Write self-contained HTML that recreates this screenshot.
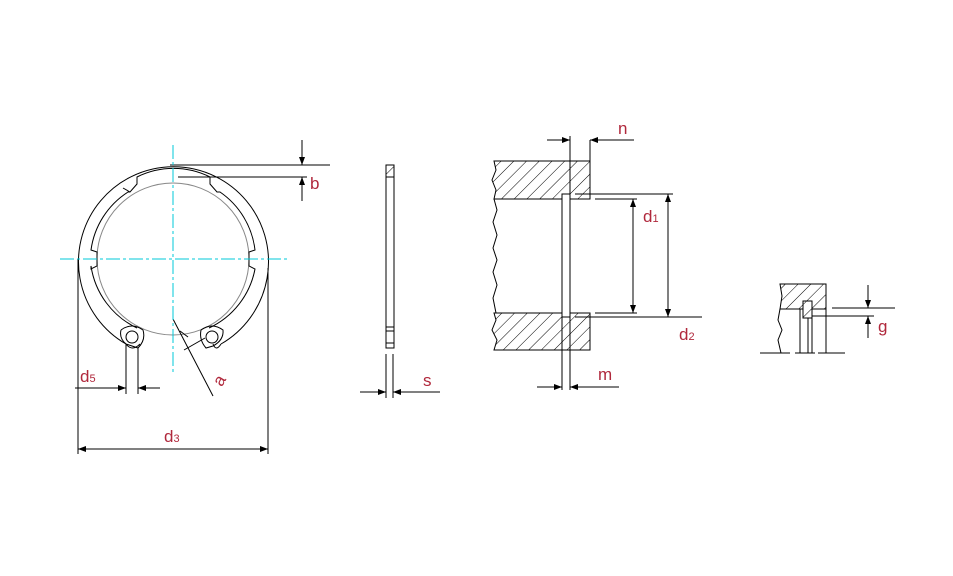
<!DOCTYPE html>
<html><head><meta charset="utf-8"><style>
html,body{margin:0;padding:0;background:#fff;width:953px;height:576px;overflow:hidden}
text{font-family:"Liberation Sans",sans-serif;fill:#b0283c;font-size:17px}
</style></head><body>
<svg width="953" height="576" viewBox="0 0 953 576" xmlns="http://www.w3.org/2000/svg">
<defs>
<pattern id="h" patternUnits="userSpaceOnUse" width="9" height="9" patternTransform="rotate(45)">
<line x1="0" y1="0" x2="0" y2="9" stroke="#000" stroke-width="1"/>
</pattern>
<marker id="ar" markerWidth="8" markerHeight="6" refX="8" refY="3" orient="auto" markerUnits="userSpaceOnUse"><path d="M0,0 L8,3 L0,6z" fill="#000"/></marker>
</defs>
<g fill="none" stroke="#000" stroke-width="1">
<!-- Ring -->
<path d="M126,344 A95,95 0 1 1 221,344"/>
<path d="M126,344 Q132,352 140,344 M213,344 Q216,352 221,344"/>
<circle cx="173" cy="259" r="76" stroke="#888"/>
<path d="M137,328 A82,82 0 0 1 91,266 L91,269 L97,266 L97,252 L91,250 A82,82 0 0 1 128,192 L130,192 L137,184 L137,177 A82,82 0 0 1 210,177 L210,184 L217,192 L220,192 A82,82 0 0 1 255,250 L249,252 L249,266 L255,269 A82,82 0 0 1 209,328"/>
<path d="M97,255 L97,266 M123,188 L130,192"/>
<circle cx="132" cy="337" r="6"/><circle cx="212" cy="337" r="6"/>
<path d="M121,330 Q132,322 143,330 Q146,340 138,348 L126,344 Q119,338 121,330"/>
<path d="M201,330 Q212,322 223,330 Q224,340 213,346 L206,348 Q199,340 201,330"/>
<line x1="126" y1="344" x2="126" y2="394"/><line x1="138" y1="348" x2="138" y2="394"/>
<line x1="75" y1="388" x2="126" y2="388" marker-end="url(#ar)"/><line x1="160" y1="388" x2="138" y2="388" marker-end="url(#ar)"/>
<line x1="78" y1="259" x2="78" y2="454"/><line x1="268" y1="268" x2="268" y2="454"/>
<line x1="173" y1="449" x2="78" y2="449" marker-end="url(#ar)"/><line x1="173" y1="449" x2="268" y2="449" marker-end="url(#ar)"/>
<line x1="173" y1="319" x2="213" y2="396"/>
<line x1="188" y1="337" x2="180" y2="331" /><line x1="184" y1="350" x2="205" y2="338"/>
<line x1="170" y1="165" x2="330" y2="165"/><line x1="178" y1="177" x2="307" y2="177"/>
<line x1="302" y1="140" x2="302" y2="165" marker-end="url(#ar)"/><line x1="302" y1="201" x2="302" y2="177" marker-end="url(#ar)"/>
</g>
<g stroke="#00c8d8" stroke-width="1" stroke-dasharray="14,3,3,3">
<line x1="60" y1="259" x2="288" y2="259"/><line x1="173" y1="145" x2="173" y2="372"/>
</g>
<!-- side strip -->
<g fill="none" stroke="#000">
<rect x="386" y="165" width="8" height="12" fill="url(#h)"/>
<rect x="386" y="165" width="8" height="183"/>
<line x1="386" y1="327" x2="394" y2="327"/><line x1="386" y1="331" x2="394" y2="331"/><line x1="386" y1="343" x2="394" y2="343"/>
<line x1="386" y1="354" x2="386" y2="398"/><line x1="393" y1="354" x2="393" y2="398"/>
<line x1="360" y1="392" x2="386" y2="392" marker-end="url(#ar)"/><line x1="440" y1="392" x2="393" y2="392" marker-end="url(#ar)"/>
</g>
<!-- section -->
<g stroke="#000" fill="none">
<path d="M494,161 L590,161 L590,199 L494,199 L496,190 L492,180 L496,170z" fill="url(#h)"/>
<path d="M494,313 L590,313 L590,350 L494,350 L497,340 L492,330 L496,320z" fill="url(#h)"/>
<rect x="562" y="194" width="8" height="123" fill="#fff"/>
<path d="M494,199 L497,210 L493,222 L497,235 L493,248 L497,260 L493,272 L497,285 L493,298 L496,313" />
<line x1="570" y1="136" x2="570" y2="390"/><line x1="562" y1="317" x2="562" y2="390"/>
<line x1="590" y1="140" x2="590" y2="161"/>
<line x1="547" y1="140" x2="570" y2="140" marker-end="url(#ar)"/><line x1="634" y1="140" x2="590" y2="140" marker-end="url(#ar)"/>
<line x1="595" y1="199" x2="637" y2="199"/><line x1="595" y1="313" x2="637" y2="313"/>
<line x1="575" y1="194" x2="673" y2="194"/><line x1="575" y1="317" x2="702" y2="317"/>
<line x1="633" y1="256" x2="633" y2="199" marker-end="url(#ar)"/><line x1="633" y1="256" x2="633" y2="313" marker-end="url(#ar)"/>
<line x1="668" y1="256" x2="668" y2="194" marker-end="url(#ar)"/><line x1="668" y1="256" x2="668" y2="317" marker-end="url(#ar)"/>
<line x1="537" y1="387" x2="562" y2="387" marker-end="url(#ar)"/><line x1="619" y1="387" x2="570" y2="387" marker-end="url(#ar)"/>
</g>
<!-- detail -->
<g stroke="#000" fill="none">
<path d="M780,284 L826,284 L826,309 L812,309 L812,301 L803,301 L803,309 L780,309 L782,296z" fill="url(#h)"/>
<rect x="803" y="301" width="9" height="17" fill="url(#h)"/>
<path d="M780,309 L778,320 L782,330 L778,340 L781,353"/>
<line x1="800" y1="309" x2="800" y2="353"/><line x1="808" y1="318" x2="808" y2="353"/><line x1="812" y1="309" x2="812" y2="353"/><line x1="826" y1="309" x2="826" y2="353"/>
<line x1="760" y1="353" x2="790" y2="353"/><line x1="795" y1="353" x2="815" y2="353"/><line x1="818" y1="353" x2="845" y2="353"/>
<line x1="832" y1="308" x2="895" y2="308"/><line x1="812" y1="316" x2="874" y2="316"/>
<line x1="868" y1="285" x2="868" y2="308" marker-end="url(#ar)"/><line x1="868" y1="338" x2="868" y2="316" marker-end="url(#ar)"/>
</g>
<text x="310" y="189">b</text>
<text x="80" y="382">d<tspan font-size="11">5</tspan></text>
<text x="164" y="442">d<tspan font-size="11">3</tspan></text>
<text x="214" y="386" transform="rotate(-60 219 380)">a</text>
<text x="423" y="386">s</text>
<text x="618" y="134">n</text>
<text x="643" y="222">d<tspan font-size="11">1</tspan></text>
<text x="679" y="340">d<tspan font-size="11">2</tspan></text>
<text x="598" y="380">m</text>
<text x="878" y="332">g</text>
</svg>
</body></html>
